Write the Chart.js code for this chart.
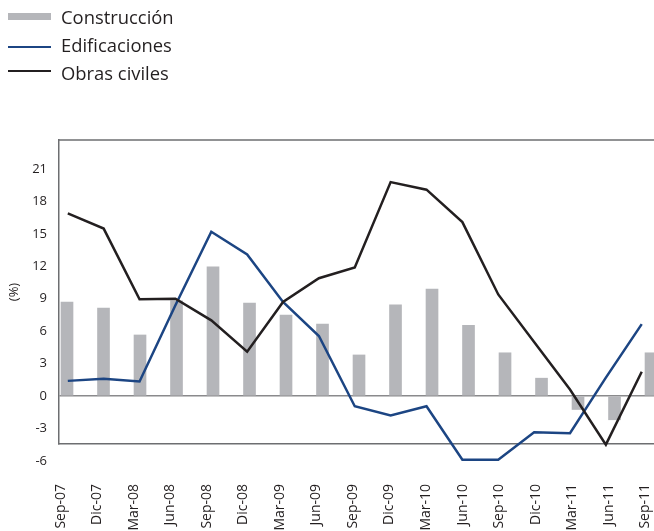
<!DOCTYPE html>
<html><head><meta charset="utf-8">
<script src="https://cdn.jsdelivr.net/npm/chart.js@4.4.1/dist/chart.umd.min.js"></script>
<style>
html,body{margin:0;padding:0;background:#fff;overflow:hidden}
#wrap{position:relative;width:654px;height:531px}
canvas{position:absolute;left:0;top:0}
#legend{position:absolute;left:0;top:0;width:300px;height:100px;font-family:"Open Sans";font-size:18.4px;color:#231f20}
.sw{position:absolute;left:8px;width:43px}
.lbl{position:absolute;left:61px;line-height:1;white-space:nowrap}
</style></head><body>
<div id="wrap"><canvas id="c" width="654" height="531"></canvas><div id="legend"></div></div>
<script>
const categories = ["Sep-07","Dic-07","Mar-08","Jun-08","Sep-08","Dic-08","Mar-09","Jun-09","Sep-09","Dic-09","Mar-10","Jun-10","Sep-10","Dic-10","Mar-11","Jun-11","Sep-11"];
const seriesNames = ["Construcción","Edificaciones","Obras civiles"];
const construccion = [8.7, 8.15, 5.65, 8.8, 11.95, 8.6, 7.5, 6.65, 3.8, 8.45, 9.9, 6.55, 4.0, 1.65, -1.25, -2.2, 4.0];
const edificaciones = [1.4, 1.6, 1.35, 8.4, 15.2, 13.1, 8.7, 5.55, -0.95, -1.8, -0.95, -5.9, -5.9, -3.35, -3.45, 1.7, 6.65];
const obrasCiviles = [16.9, 15.5, 8.95, 9.0, 7.0, 4.1, 8.7, 10.9, 11.9, 19.8, 19.1, 16.1, 9.4, 5.0, 0.6, -4.5, 2.25];
const yTickValues = [-6, -3, 0, 3, 6, 9, 12, 15, 18, 21];

const colors = { bar: "#b5b6ba", edif: "#1c4583", obras: "#231f20", frame: "#6d6e71", zero: "#8a8a8c", text: "#231f20" };

const frameTop = {
  id: "frameTop",
  beforeDatasetsDraw(chart) {
    const { ctx, chartArea: a } = chart;
    ctx.save();
    ctx.strokeStyle = colors.frame;
    ctx.lineWidth = 1.5;
    ctx.beginPath();
    ctx.moveTo(a.left, a.top);
    ctx.lineTo(a.right, a.top);
    ctx.stroke();
    ctx.restore();
  }
};

const toXY = arr => arr.map((v, i) => ({ x: i, y: v }));

const chart = new Chart(document.getElementById("c"), {
  type: "bar",
  data: {
    datasets: [
      { type: "line", label: seriesNames[2], data: toXY(obrasCiviles), xAxisID: "x2", borderColor: colors.obras, backgroundColor: colors.obras, borderWidth: 2.5, pointRadius: 0, tension: 0, clip: false, fill: false, order: 0 },
      { type: "line", label: seriesNames[1], data: toXY(edificaciones), xAxisID: "x2", borderColor: colors.edif, backgroundColor: colors.edif, borderWidth: 2.5, pointRadius: 0, tension: 0, clip: false, fill: false, order: 1 },
      { type: "bar", label: seriesNames[0], data: toXY(construccion), xAxisID: "x", backgroundColor: colors.bar, borderWidth: 0, barThickness: 12, order: 2 }
    ]
  },
  options: {
    responsive: false,
    animation: false,
    devicePixelRatio: 1,
    layout: { padding: { top: 140, right: 0, bottom: 0, left: 0 } },
    plugins: { legend: { display: false }, tooltip: { enabled: false } },
    scales: {
      x: {
        type: "linear",
        position: "bottom",
        offset: false,
        min: -0.055,
        max: 16.246,
        afterBuildTicks: axis => { axis.ticks = categories.map((c, i) => ({ value: i })); },
        afterFit: axis => { axis.height = 87; axis.paddingLeft = 0; axis.paddingRight = 0; },
        grid: { display: false, drawTicks: false },
        border: { display: true, color: colors.frame, width: 1.5 },
        ticks: {
          autoSkip: false, minRotation: 90, maxRotation: 90, padding: 40,
          color: colors.text, font: { family: "Open Sans", size: 14 },
          callback: v => categories[v]
        }
      },
      x2: {
        type: "linear",
        display: false,
        offset: false,
        min: -0.2455,
        max: 16.342
      },
      y: {
        type: "linear",
        position: "left",
        min: -4.444,
        max: 23.70,
        afterBuildTicks: axis => { axis.ticks = yTickValues.map(v => ({ value: v })); },
        afterFit: axis => { axis.width = 59; axis.paddingTop = 0; axis.paddingBottom = 0; },
        grid: {
          drawTicks: false,
          color: c => (c.tick && c.tick.value === 0) ? colors.zero : "rgba(0,0,0,0)",
          lineWidth: 1.5
        },
        border: { display: true, color: colors.frame, width: 1.5 },
        ticks: { padding: 12, color: colors.text, font: { family: "Open Sans", size: 13 }, callback: v => String(v) },
        title: { display: true, text: "(%)", color: colors.text, font: { family: "Open Sans", size: 13 }, padding: { top: 6, bottom: 0 } }
      }
    }
  },
  plugins: [frameTop]
});

// HTML legend built from the chart's datasets
const legend = document.getElementById("legend");
const legendItems = [
  { ds: chart.data.datasets[2], top: 7.5, swTop: 13, swH: 7 },
  { ds: chart.data.datasets[1], top: 35.5, swTop: 45.5, swH: 2.5 },
  { ds: chart.data.datasets[0], top: 63.5, swTop: 69.5, swH: 2.5 }
];
legendItems.forEach(it => {
  const sw = document.createElement("div");
  sw.className = "sw";
  sw.style.top = it.swTop + "px";
  sw.style.height = it.swH + "px";
  sw.style.background = it.ds.type === "bar" ? it.ds.backgroundColor : it.ds.borderColor;
  legend.appendChild(sw);
  const lb = document.createElement("div");
  lb.className = "lbl";
  lb.style.top = it.top + "px";
  lb.textContent = it.ds.label;
  legend.appendChild(lb);
});
</script>
</body></html>
